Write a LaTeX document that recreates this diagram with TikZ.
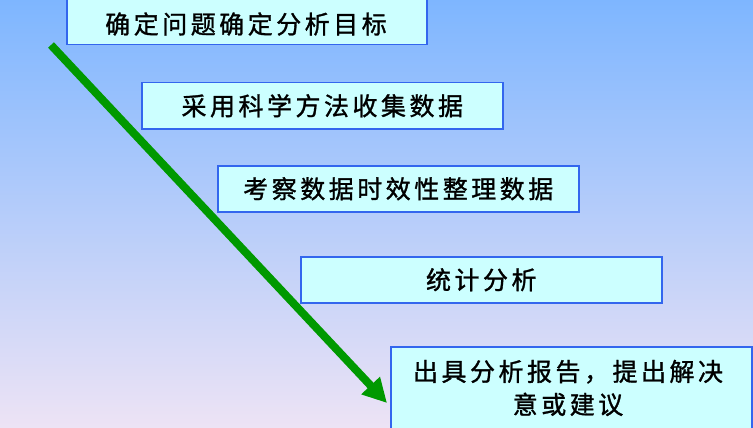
\documentclass[tikz,border=0pt]{standalone}
\usepackage{fontspec}
\newfontfamily\cjk[LetterSpace=14,FakeBold=1.2]{Noto Sans CJK SC}
\usetikzlibrary{arrows.meta}
\definecolor{bgtop}{HTML}{7EB6FF}
\definecolor{bgmid}{HTML}{B4CCF2}
\definecolor{bgbot}{HTML}{EDE3F5}
\definecolor{boxfill}{HTML}{CCFFFF}
\definecolor{boxline}{HTML}{3366EE}
\definecolor{arrowgreen}{HTML}{009900}
\tikzset{
  stepbox/.style={draw=boxline, line width=1.5pt, fill=boxfill, inner sep=0pt, anchor=north west},
  steptext/.style={font=\cjk\fontsize{25}{33}\selectfont, text=black, align=center, inner sep=0pt},
  flowarrow/.style={draw=arrowgreen, line width=8pt, -{Triangle[length=24pt,width=24pt]}}
}
\begin{document}
\begin{tikzpicture}[x=1pt,y=-1pt]
\useasboundingbox (0,0) rectangle (753,428);
\shade[top color=bgtop, middle color=bgmid, bottom color=bgbot] (0,0) rectangle (753,428);
% boxes
\node[stepbox, minimum width=360pt, minimum height=48pt] (b1) at (66,-4) {};
\node[steptext] (t1) at (246,24) {确定问题确定分析目标};
\node[stepbox, minimum width=361pt, minimum height=46pt] (b2) at (141,82) {};
\node[steptext] (t2) at (b2.center) {采用科学方法收集数据};
\node[stepbox, minimum width=361pt, minimum height=46pt] (b3) at (217,165) {};
\node[steptext] (t3) at (b3.center) {考察数据时效性整理数据};
\node[stepbox, minimum width=361pt, minimum height=46pt] (b4) at (300,256) {};
\node[steptext] (t4) at (b4.center) {统计分析};
\node[stepbox, minimum width=361pt, minimum height=82pt] (b5) at (390,346) {};
\node[steptext] (t5) at (568,388) {出具分析报告，提出解决\\意或建议};
% arrow
\coordinate (as) at (51,45);
\coordinate (ae) at (387,403);
\draw[flowarrow] (as) -- (ae);
\end{tikzpicture}
\end{document}
